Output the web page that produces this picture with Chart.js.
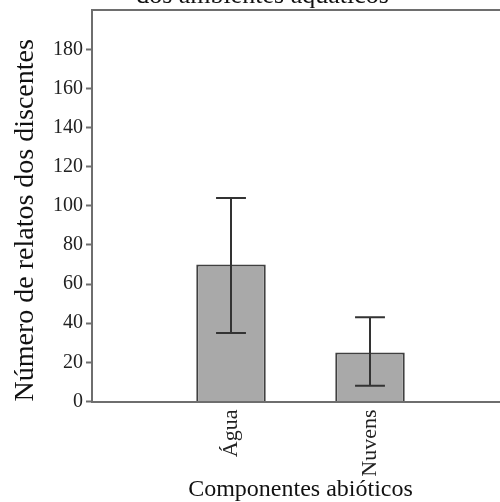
<!DOCTYPE html>
<html>
<head>
<meta charset="utf-8">
<script src="https://cdn.jsdelivr.net/npm/chart.js@4/dist/chart.umd.min.js"></script>
<style>
  html, body { margin: 0; padding: 0; overflow: hidden; background: #ffffff; width: 500px; height: 502px; }
  #chart { position: absolute; left: 0; top: -19px; }
</style>
</head>
<body>
<canvas id="chart" width="512" height="521"></canvas>
<script>
// ---- data ----
const categories = ['', 'Água', 'Nuvens', ''];
const values     = [null, 70, 25, null];
const errLow     = [null, 35, 8, null];
const errHigh    = [null, 104, 43, null];
const yTickStep  = 20;
const yMax       = 200;
const titleText  = 'dos ambientes aquáticos';
const xTitle     = 'Componentes abióticos';
const yTitle     = 'Número de relatos dos discentes';

const SERIF = "'Liberation Serif', 'Times New Roman', serif";
const AXIS = '#6e6e6e';

const errorBars = {
  id: 'errorBars',
  afterDatasetsDraw(chart) {
    const meta = chart.getDatasetMeta(0);
    const y = chart.scales.y;
    const ctx = chart.ctx;
    ctx.save();
    ctx.strokeStyle = '#333333';
    ctx.lineWidth = 2;
    meta.data.forEach((bar, i) => {
      if (errLow[i] == null || errHigh[i] == null) return;
      const x = bar.x;
      const half = bar.width * 0.215;
      const yl = y.getPixelForValue(errLow[i]);
      const yh = y.getPixelForValue(errHigh[i]);
      ctx.beginPath();
      ctx.moveTo(x, yl); ctx.lineTo(x, yh);
      ctx.moveTo(x - half, yl); ctx.lineTo(x + half, yl);
      ctx.moveTo(x - half, yh); ctx.lineTo(x + half, yh);
      ctx.stroke();
    });
    ctx.restore();
  }
};

function noPad(scale) {
  scale.paddingLeft = 0; scale.paddingRight = 0;
  scale.paddingTop = 0; scale.paddingBottom = 0;
}

new Chart(document.getElementById('chart'), {
  type: 'bar',
  data: {
    labels: categories,
    datasets: [{
      data: values,
      backgroundColor: '#a9a9a9',
      borderColor: '#404040',
      borderWidth: 2,
      barPercentage: 0.5,
      categoryPercentage: 1.0
    }]
  },
  options: {
    responsive: false,
    animation: false,
    layout: { autoPadding: false, padding: { left: 16, right: 3, top: 0, bottom: 0 } },
    plugins: {
      legend: { display: false },
      tooltip: { enabled: false },
      title: {
        display: true,
        text: titleText,
        color: '#111111',
        font: { family: SERIF, size: 26, weight: 'normal' },
        padding: { top: 0, bottom: -2 }
      }
    },
    scales: {
      x: {
        offset: false,
        grid: { display: false },
        border: { display: true, color: AXIS, width: 2 },
        ticks: {
          color: '#222222',
          font: { family: SERIF, size: 22 },
          minRotation: 90, maxRotation: 90,
          padding: 0,
          autoSkip: false
        },
        title: {
          display: true,
          text: xTitle,
          color: '#111111',
          font: { family: SERIF, size: 24, lineHeight: 1.0 },
          padding: { top: 0, bottom: 0 }
        },
        afterFit(scale) { scale.height = 100.5; noPad(scale); }
      },
      x2: {
        type: 'linear',
        position: 'top',
        display: true,
        grid: { display: false, drawTicks: false },
        ticks: { display: false },
        border: { display: true, color: AXIS, width: 2 },
        afterFit(scale) { scale.height = 0; noPad(scale); }
      },
      y: {
        min: 0,
        max: yMax,
        ticks: {
          stepSize: yTickStep,
          color: '#222222',
          font: { family: SERIF, size: 20 },
          padding: 3
        },
        afterBuildTicks(scale) {
          scale.ticks = scale.ticks.filter(t => t.value < yMax);
        },
        grid: { drawOnChartArea: false, drawTicks: true, tickLength: 6, tickColor: AXIS, tickWidth: 2 },
        border: { display: true, color: AXIS, width: 2 },
        title: {
          display: true,
          text: yTitle,
          align: 'start',
          color: '#111111',
          font: { family: SERIF, size: 28, lineHeight: 1.0 },
          padding: { top: -4, bottom: 0 }
        },
        afterFit(scale) { scale.width = 76; noPad(scale); }
      }
    }
  },
  plugins: [errorBars]
});
</script>
</body>
</html>
